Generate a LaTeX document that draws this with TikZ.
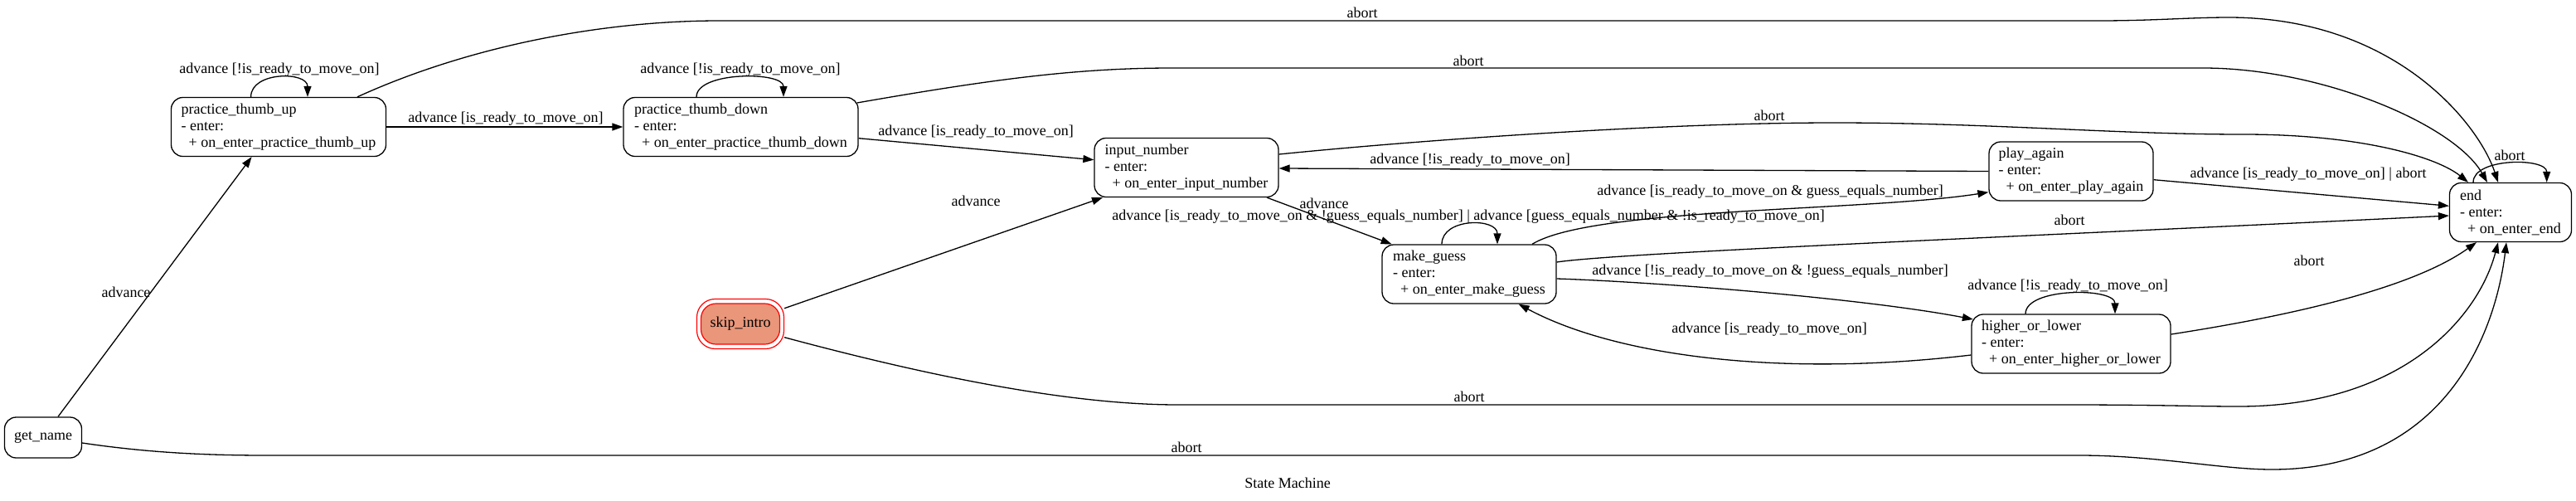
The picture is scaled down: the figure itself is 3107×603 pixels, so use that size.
\documentclass[tikz,border=0pt]{standalone}
\usepackage{fontspec}
\setmainfont{Liberation Serif}
\usetikzlibrary{arrows.meta}
\definecolor{salmonfill}{RGB}{233,150,122}
\begin{document}
\begin{tikzpicture}[x=1pt,y=-1pt,
  every node/.style={font=\fontsize{18}{20}\selectfont},
  state/.style={draw, line width=1.3pt, rounded corners=14pt, minimum height=71pt, align=left, inner xsep=4pt, inner ysep=2pt},
  edge/.style={line width=1.3pt, -{Triangle[length=13pt,width=9pt]}},
  lbl/.style={inner sep=0pt}]
\useasboundingbox[fill=white] (0,0) rectangle (3107,603);

% states
\node[state, minimum width=259pt] (ptu) at (336,153) {practice\_thumb\_up\\- enter:\\\hspace*{9pt}+ on\_enter\_practice\_thumb\_up};
\node[state, minimum width=283pt] (ptd) at (893.5,153) {practice\_thumb\_down\\- enter:\\\hspace*{9pt}+ on\_enter\_practice\_thumb\_down};
\node[state, minimum width=222pt] (input) at (1431,202) {input\_number\\- enter:\\\hspace*{9pt}+ on\_enter\_input\_number};
\node[state, minimum width=210pt] (guess) at (1772,330.5) {make\_guess\\- enter:\\\hspace*{9pt}+ on\_enter\_make\_guess};
\node[state, minimum width=198pt] (again) at (2498,206.5) {play\_again\\- enter:\\\hspace*{9pt}+ on\_enter\_play\_again};
\node[state, minimum width=147pt] (end) at (3028,256) {end\\- enter:\\\hspace*{9pt}+ on\_enter\_end};
\node[state, minimum width=240pt] (hol) at (2498,414.5) {higher\_or\_lower\\- enter:\\\hspace*{9pt}+ on\_enter\_higher\_or\_lower};
\node[state, minimum width=93pt, minimum height=49pt] (getname) at (52,527.5) {get\_name};
\node[draw=red, line width=1.2pt, rounded corners=22pt, minimum width=105pt, minimum height=60pt] (skipouter) at (893,390.5) {};
\node[draw=red, fill=salmonfill, line width=1.2pt, rounded corners=18pt, minimum width=95pt, minimum height=49pt] (skip) at (893,390.5) {skip\_intro};

% edges
\draw[edge] ([xshift=18]getname.north) -- ([xshift=-32.4]ptu.south);
\draw[edge] ([xshift=-33.4]ptu.north) .. controls +(0,-31) and +(0,-31) .. ([xshift=35]ptu.north);
\draw[edge] (ptu.east) -- (ptd.west);
\draw[edge] ([xshift=95]ptu.north) .. controls (560,58) and (720,25) .. (868,25) -- (2530,25) .. controls (2600,25) and (2640,21) .. (2690,21) .. controls (2890,22) and (2990,150) .. ([xshift=-15]end.north);
\draw[edge] ([xshift=-53.5]ptd.north) .. controls +(0,-31) and +(0,-31) .. ([xshift=51.5]ptd.north);
\draw[edge] ([yshift=-13.7]ptd.east) -- ([yshift=9.3]input.west);
\draw[edge] ([xshift=-2,yshift=29]ptd.east) .. controls (1200,95) and (1300,82) .. (1414,82) -- (2657,82) .. controls (2800,82) and (2960,150) .. ([xshift=-28]end.north);
\draw[edge] ([yshift=16]input.east) .. controls (1700,170) and (2000,148) .. (2212,148) .. controls (2400,148) and (2550,162) .. (2706,162) .. controls (2850,162) and (2940,190) .. ([xshift=-51]end.north);
\draw[edge] (again.west) -- ([yshift=-1]input.east);
\draw[edge] ([xshift=97]input.south) -- ([xshift=-93.4]guess.north);
\draw[edge] ([xshift=-33]guess.north) .. controls +(0,-32) and +(0,-32) .. ([xshift=34]guess.north);
\draw[edge] ([xshift=76]guess.north) .. controls (1920,250) and (2250,255) .. ([yshift=-25.2]again.west);
\draw[edge] ([yshift=14.5]guess.east) .. controls (1950,305) and (2400,287) .. ([yshift=-4]end.west);
\draw[edge] ([yshift=-5.5]guess.east) .. controls (2000,340) and (2250,360) .. ([xshift=2.5,yshift=29.5]hol.west);
\draw[edge] ([yshift=-13.5]hol.west) .. controls (2150,455) and (1950,430) .. ([xshift=59.6]guess.south);
\draw[edge] ([xshift=-55]hol.north) .. controls +(0,-32) and +(0,-32) .. ([xshift=53]hol.north);
\draw[edge] ([yshift=11.5]hol.east) .. controls (2800,375) and (2920,340) .. ([xshift=-41]end.south);
\draw[edge] ([yshift=-10.2]again.east) -- ([yshift=7.7]end.west);
\draw[edge] ([xshift=-45]end.north) .. controls +(0,-30) and +(0,-30) .. ([xshift=43.7]end.north);
\draw[edge] ([yshift=18.8]skipouter.east) -- ([xshift=-101]input.south);
\draw[edge] ([yshift=-16.2]skipouter.east) .. controls (1100,448) and (1280,488) .. (1421,488) -- (2494,488) .. controls (2600,488) and (2650,490) .. (2700,490) .. controls (2900,490) and (2990,380) .. ([xshift=-15]end.south);
\draw[edge] ([yshift=-6.5]getname.east) .. controls (180,546) and (250,549) .. (323,549) -- (2508,549) .. controls (2600,549) and (2680,566) .. (2740,566) .. controls (2950,566) and (3010,400) .. ([xshift=-5]end.south);

% labels
\node[lbl] (l1) at (152,352.7) {advance};
\node[lbl] (l2) at (337,84) {advance [!is\_ready\_to\_move\_on]};
\node[lbl] (l3) at (610,143) {advance [is\_ready\_to\_move\_on]};
\node[lbl] (l4) at (1643,15) {abort};
\node[lbl] (l5) at (893,84) {advance [!is\_ready\_to\_move\_on]};
\node[lbl] (l6) at (1177,159) {advance [is\_ready\_to\_move\_on]};
\node[lbl] (l7) at (1771,73) {abort};
\node[lbl] (l8) at (2134,139) {abort};
\node[lbl] (l9) at (1773,193) {advance [!is\_ready\_to\_move\_on]};
\node[lbl] (l10) at (1597,245) {advance};
\node[lbl] (l11) at (1771,261) {advance [is\_ready\_to\_move\_on \& !guess\_equals\_number] | advance [guess\_equals\_number \& !is\_ready\_to\_move\_on]};
\node[lbl] (l12) at (2135,231) {advance [is\_ready\_to\_move\_on \& guess\_equals\_number]};
\node[lbl] (l13) at (2496,265) {abort};
\node[lbl] (l14) at (2135,327) {advance [!is\_ready\_to\_move\_on \& !guess\_equals\_number]};
\node[lbl] (l15) at (2134,397) {advance [is\_ready\_to\_move\_on]};
\node[lbl] (l16) at (2494,345) {advance [!is\_ready\_to\_move\_on]};
\node[lbl] (l17) at (2785,314) {abort};
\node[lbl] (l18) at (2784,210) {advance [is\_ready\_to\_move\_on] | abort};
\node[lbl] (l19) at (3027,187) {abort};
\node[lbl] (l20) at (1177,242) {advance};
\node[lbl] (l21) at (1772,478) {abort};
\node[lbl] (l22) at (1431,539) {abort};
\node[lbl] (title) at (1553,582) {State Machine};
\end{tikzpicture}
\end{document}
